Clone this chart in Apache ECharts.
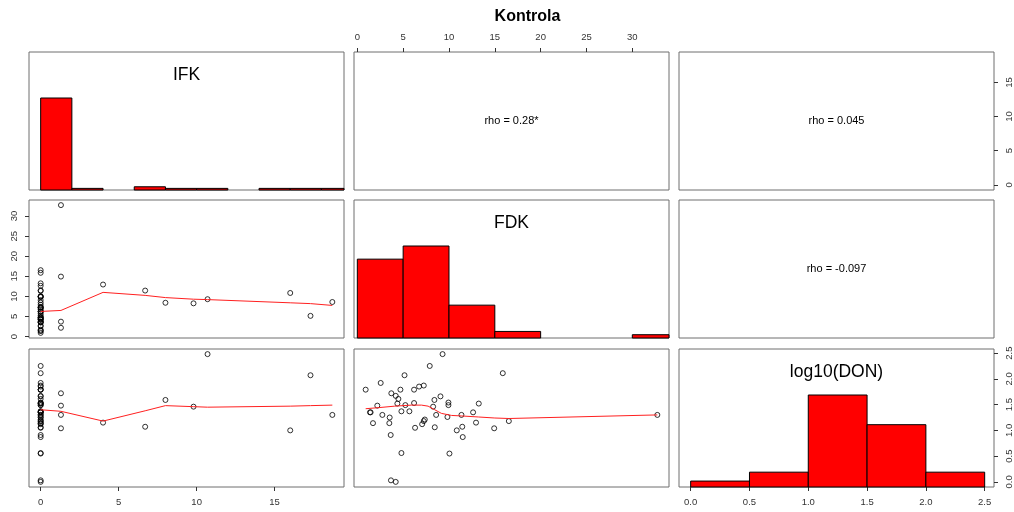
<!DOCTYPE html>
<html><head><meta charset="utf-8">
<script src="https://cdn.jsdelivr.net/npm/echarts@6/dist/echarts.min.js"></script>
<style>html,body{margin:0;padding:0;background:#fff}#c{width:1014px;height:512px}</style>
</head><body><div id="c"></div>
<script>
// ---- data ----
const chartTitle = 'Kontrola';
const varNames = ['IFK', 'FDK', 'log10(DON)'];

// one entry per observation
const ifk = [
  0,0,0,0,0,0,0,0,0,0, 0,0,0,0,0,0,0,0,0,0,
  0,0,0,0,0,0,0,0,0,0, 0,0,0,0,0,0,0,0,0,0,
  1.3,1.3,1.3,1.3,4.0,6.7,8.0,9.8,10.7,16.0,17.3,18.7
];
const fdk = [
  0.91,2.55,1.38,1.45,1.71,2.73,3.53,3.49,3.64,3.67,
  4.19,4.19,4.48,4.37,4.70,4.81,5.24,4.81,5.68,6.19,
  6.19,6.30,6.74,7.25,7.07,7.25,7.36,7.90,8.45,9.07,
  9.83,9.94,9.94,10.05,11.36,11.50,12.63,13.25,15.87,16.53,
  32.73,14.93,3.71,2.18,12.95,11.45,8.41,8.27,9.30,10.85,5.15,8.60
];
const ldon = [
  1.79,1.92,1.35,1.35,1.14,1.30,1.25,1.14,0.91,0.03,
  0.00,1.67,1.61,1.52,1.79,1.37,1.49,0.56,1.37,1.79,
  1.53,1.05,1.85,1.87,1.12,1.18,1.21,2.25,1.06,1.66,
  1.26,1.54,1.49,0.55,1.30,0.87,1.35,1.52,2.11,1.18,
  1.30,1.04,1.72,1.48,1.15,1.07,1.59,1.46,2.48,1.00,2.07,1.30
];

// histograms (bin edges and counts)
const ifkBreaks = [0,2,4,6,8,10,12,14,16,18,20];
const ifkCounts = [57,1,0,2,1,1,0,1,1,1];
const fdkBreaks = [0,5,10,15,20,25,30,35];
const fdkCounts = [24,28,10,2,0,0,1];
const donBreaks = [0,0.5,1.0,1.5,2.0,2.5];
const donCounts = [2,5,31,21,5];

// smoother lines
const smIfkX   = [0,1.3,4.0,6.7,8.0,9.8,10.7,16.0,17.3,18.7];
const smIfkFdk = [6.25,6.5,11.0,10.25,9.7,9.3,9.2,8.4,8.2,7.75];
const smIfkDon = [1.40,1.37,1.18,1.38,1.48,1.46,1.45,1.47,1.48,1.49];
const smFdkX   = [0.91,2.26,4.08,5.9,7.0,7.72,8.45,9.17,10.27,11.36,13.2,15.0,16.53,32.73];
const smFdkDon = [1.42,1.44,1.47,1.49,1.49,1.47,1.40,1.33,1.29,1.28,1.26,1.24,1.23,1.30];

// ticks
const ifkTicks = [0,5,10,15];
const fdkTicks = [0,5,10,15,20,25,30];
const donTicks = [0,0.5,1.0,1.5,2.0,2.5];

// upper panel texts
const rhoTexts = [
  {r:0, c:1, text:'rho = 0.28*'},
  {r:0, c:2, text:'rho = 0.045'},
  {r:1, c:2, text:'rho = -0.097'}
];

// ---- layout ----
const colLeft = [29, 354, 679], colW = 315;
const rowTop = [52, 200, 349], rowH = 138;
const FONT = 'Liberation Sans, Arial, Helvetica, sans-serif';

const vars = [ifk, fdk, ldon];
const ticks = [ifkTicks, fdkTicks, donTicks];
const hists = [[ifkBreaks, ifkCounts], [fdkBreaks, fdkCounts], [donBreaks, donCounts]];
function range(a) {
  const mn = Math.min(...a), mx = Math.max(...a), e = 0.04 * (mx - mn);
  return [mn - e, mx + e];
}
const ranges = vars.map(range);
const fmt = [v => String(v), v => String(v), v => v.toFixed(1)];

const grids = [], xAxes = [], yAxes = [], series = [];
const hidden = {axisLine:{show:false, onZero:false}, axisTick:{show:false}, axisLabel:{show:false}, splitLine:{show:false}};

function shownAxis(vi, position, rotate) {
  return {
    position: position,
    axisLine: {show: false, onZero: false},
    splitLine: {show: false},
    axisTick: {show: true, length: 4, inside: false, customValues: ticks[vi], lineStyle: {color: '#333', width: 1}},
    axisLabel: {show: true, customValues: ticks[vi], formatter: fmt[vi], rotate: rotate || 0,
      margin: 10, fontSize: 9.5, color: '#333', fontFamily: FONT}
  };
}

for (let r = 0; r < 3; r++) {
  for (let c = 0; c < 3; c++) {
    const i = r * 3 + c;
    grids.push({left: colLeft[c], top: rowTop[r], width: colW, height: rowH,
      show: true, borderColor: '#6e6e6e', borderWidth: 1, backgroundColor: 'transparent'});
    let xa = {gridIndex: i, type: 'value', min: ranges[c][0], max: ranges[c][1], ...hidden};
    if (r === 0 && c === 1) xa = {...xa, ...shownAxis(1, 'top')};
    if (r === 2 && (c === 0 || c === 2)) xa = {...xa, ...shownAxis(c, 'bottom')};
    xAxes.push(xa);
    let ya;
    if (r === c) {
      ya = {gridIndex: i, type: 'value', min: 0, max: 1.5 * Math.max(...hists[r][1]), ...hidden};
    } else {
      ya = {gridIndex: i, type: 'value', min: ranges[r][0], max: ranges[r][1], ...hidden};
      if (r === 1 && c === 0) ya = {...ya, ...shownAxis(1, 'left', 90)};
      if (r === 0 && c === 2) ya = {...ya, ...shownAxis(0, 'right', 90)};
    }
    yAxes.push(ya);
  }
}
// extra variable-scale axis on the right of the last diagonal panel
yAxes.push({gridIndex: 8, type: 'value', min: ranges[2][0], max: ranges[2][1], ...shownAxis(2, 'right', 90)});

// histograms
for (let d = 0; d < 3; d++) {
  const i = d * 4;
  const [br, ct] = hists[d];
  const data = [];
  for (let k = 0; k < ct.length; k++) if (ct[k] > 0) data.push([br[k], br[k + 1], ct[k]]);
  series.push({
    type: 'custom', xAxisIndex: i, yAxisIndex: i, silent: true,
    data: data,
    renderItem: function (params, api) {
      const p0 = api.coord([api.value(0), 0]);
      const p1 = api.coord([api.value(1), api.value(2)]);
      const cs = params.coordSys;
      const rect = echarts.graphic.clipRectByRect(
        {x: p0[0], y: p1[1], width: p1[0] - p0[0], height: p0[1] - p1[1]},
        {x: cs.x, y: cs.y, width: cs.width, height: cs.height});
      if (!rect) return null;
      return {type: 'rect', shape: rect, style: {fill: '#ff0000', stroke: '#000', lineWidth: 1}};
    }
  });
}

// scatter + smoothers in lower panels
function scatter(i, xs, ys) {
  series.push({
    type: 'scatter', xAxisIndex: i, yAxisIndex: i, silent: true,
    symbol: 'circle', symbolSize: 5,
    itemStyle: {color: 'rgba(0,0,0,0)', borderColor: '#000', borderWidth: 1},
    data: xs.map((x, k) => [x, ys[k]])
  });
}
function smooth(i, xs, ys) {
  series.push({
    type: 'line', xAxisIndex: i, yAxisIndex: i, silent: true,
    showSymbol: false, symbol: 'none',
    lineStyle: {color: '#ff2020', width: 1},
    data: xs.map((x, k) => [x, ys[k]])
  });
}
scatter(3, ifk, fdk);  smooth(3, smIfkX, smIfkFdk);
scatter(6, ifk, ldon); smooth(6, smIfkX, smIfkDon);
scatter(7, fdk, ldon); smooth(7, smFdkX, smFdkDon);

// texts
const graphics = [];
graphics.push({type: 'text', x: 527.5, y: 17, silent: true,
  style: {text: chartTitle, font: 'bold 16px ' + FONT, fill: '#000', align: 'center', verticalAlign: 'middle'}});
for (let d = 0; d < 3; d++) {
  graphics.push({type: 'text', x: colLeft[d] + colW / 2, y: rowTop[d] + rowH * (1 - 5 / 6), silent: true,
    style: {text: varNames[d], font: '17.5px ' + FONT, fill: '#000', align: 'center', verticalAlign: 'middle'}});
}
rhoTexts.forEach(t => {
  graphics.push({type: 'text', x: colLeft[t.c] + colW / 2, y: rowTop[t.r] + rowH / 2, silent: true,
    style: {text: t.text, font: '11px ' + FONT, fill: '#000', align: 'center', verticalAlign: 'middle'}});
});

const chart = echarts.init(document.getElementById('c'), null, {renderer: 'canvas'});
chart.setOption({
  animation: false,
  backgroundColor: '#fff',
  grid: grids,
  xAxis: xAxes,
  yAxis: yAxes,
  series: series,
  graphic: graphics
});
</script>
</body></html>
